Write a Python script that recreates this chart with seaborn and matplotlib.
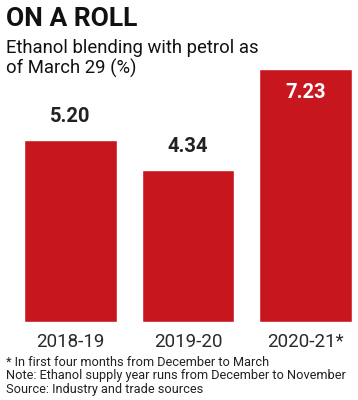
import matplotlib
matplotlib.use("Agg")
import matplotlib.pyplot as plt
import seaborn as sns
import pandas as pd

categories = ["2018-19", "2019-20", "2020-21*"]
values = [5.20, 4.34, 7.23]
value_labels = ["5.20", "4.34", "7.23"]

title = "ON A ROLL"
subtitle = "Ethanol blending with petrol as\nof March 29 (%)"
notes = ["* In first four months from December to March",
         "Note: Ethanol supply year runs from December to November",
         "Source: Industry and trade sources"]

RED = "#C8161E"

sns.set_theme(style="white")
plt.rcParams['font.family'] = ['Roboto', 'DejaVu Sans']

df = pd.DataFrame({"year": categories, "value": values})

fig = plt.figure(figsize=(3.58, 4.0), dpi=100)
ax = fig.add_axes([24/358, 1-322/400, 328/358, 253/400])
sns.barplot(data=df, x="year", y="value", color=RED, saturation=1, width=0.79, ax=ax)
ax.set_xlim(-0.395, 2.395)
ax.set_ylim(0, 7.23)
for s in ax.spines.values():
    s.set_visible(False)
ax.set_yticks([])
ax.set_xlabel("")
ax.set_ylabel("")
ax.tick_params(axis='x', length=0, pad=8, labelsize=13.5, labelcolor="#2a2a2a")

for i, (v, t) in enumerate(zip(values, value_labels)):
    if i == 2:
        ax.text(i, v - 0.68, t, ha="center", va="center", color="white",
                fontsize=14.5, fontweight="bold")
    else:
        ax.text(i, v + 0.68, t, ha="center", va="center", color="#222222",
                fontsize=14.5, fontweight="bold")

fig.text(6/358, 1-19/400, title, ha="left", va="center", fontsize=19,
         fontweight="bold", color="#111111")
fig.text(6/358, 1-39/400, subtitle, ha="left", va="top", fontsize=13.3,
         color="#111111", linespacing=1.1)
for k, n in enumerate(notes):
    fig.text(6/358, 1-(362 + 14*k)/400, n, ha="left", va="center", fontsize=9.2,
             color="#222222")

fig.savefig("out.png", dpi=100)
